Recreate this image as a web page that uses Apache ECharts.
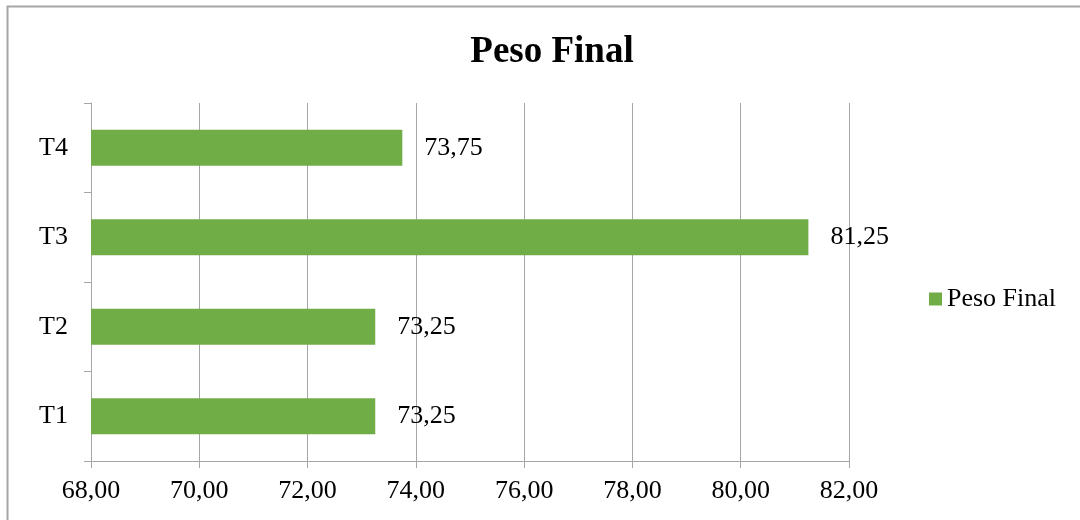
<!DOCTYPE html>
<html>
<head>
<meta charset="utf-8">
<script src="https://cdn.jsdelivr.net/npm/echarts@6/dist/echarts.min.js"></script>
<style>
  html, body { margin: 0; padding: 0; background: #fff; }
  #chart { width: 1080px; height: 520px; }
</style>
</head>
<body>
<div id="chart"></div>
<script>
const categories = ['T1', 'T2', 'T3', 'T4']
const pesoFinal = [73.25, 73.25, 81.25, 73.75]
const seriesName = 'Peso Final'

const fmt = v => v.toFixed(2).replace('.', ',')
const serif = '"Liberation Serif", "Times New Roman", serif'

const chart = echarts.init(document.getElementById('chart'))
chart.setOption({
    animation: false,
    textStyle: { fontFamily: serif, color: '#000' },
    title: {
        text: 'Peso Final',
        left: 547,
        top: 29,
        textAlign: 'center',
        textStyle: { fontFamily: serif, fontSize: 37, fontWeight: 'bold', color: '#000' }
    },
    legend: {
        left: 929,
        top: 286,
        padding: 0,
        icon: 'rect',
        itemWidth: 13,
        itemHeight: 13,
        itemGap: 6,
        textStyle: { fontFamily: serif, fontSize: 26, color: '#000' },
        data: [seriesName]
    },
    grid: { left: 91, right: 231, top: 103, bottom: 59 },
    xAxis: {
        type: 'value',
        min: 68,
        max: 82,
        interval: 2,
        axisLine: { show: true, lineStyle: { color: '#a6a6a6', width: 1 } },
        axisTick: { show: true, length: 7, lineStyle: { color: '#a6a6a6' } },
        splitLine: { show: true, lineStyle: { color: '#a6a6a6', width: 1 } },
        axisLabel: { formatter: v => fmt(v), fontFamily: serif, fontSize: 26, color: '#000', margin: 17 }
    },
    yAxis: {
        type: 'category',
        data: categories,
        axisLine: { show: true, lineStyle: { color: '#a6a6a6', width: 1 } },
        axisTick: { show: true, length: 7, lineStyle: { color: '#a6a6a6' } },
        axisLabel: { fontFamily: serif, fontSize: 26, color: '#000', margin: 23 }
    },
    graphic: [{
        // chart frame: only left and top edges fall inside the picture
        type: 'polyline',
        shape: { points: [[7.5, 520], [7.5, 6.5], [1080, 6.5]] },
        style: { fill: null, stroke: '#a6a6a6', lineWidth: 2 },
        silent: true
    }],
    series: [{
        name: seriesName,
        type: 'bar',
        data: pesoFinal,
        barWidth: '40%',
        itemStyle: { color: '#70ad47' },
        label: {
            show: true,
            position: 'right',
            distance: 22,
            formatter: p => fmt(p.value),
            fontFamily: serif,
            fontSize: 26,
            color: '#000'
        }
    }]
})
</script>
</body>
</html>
